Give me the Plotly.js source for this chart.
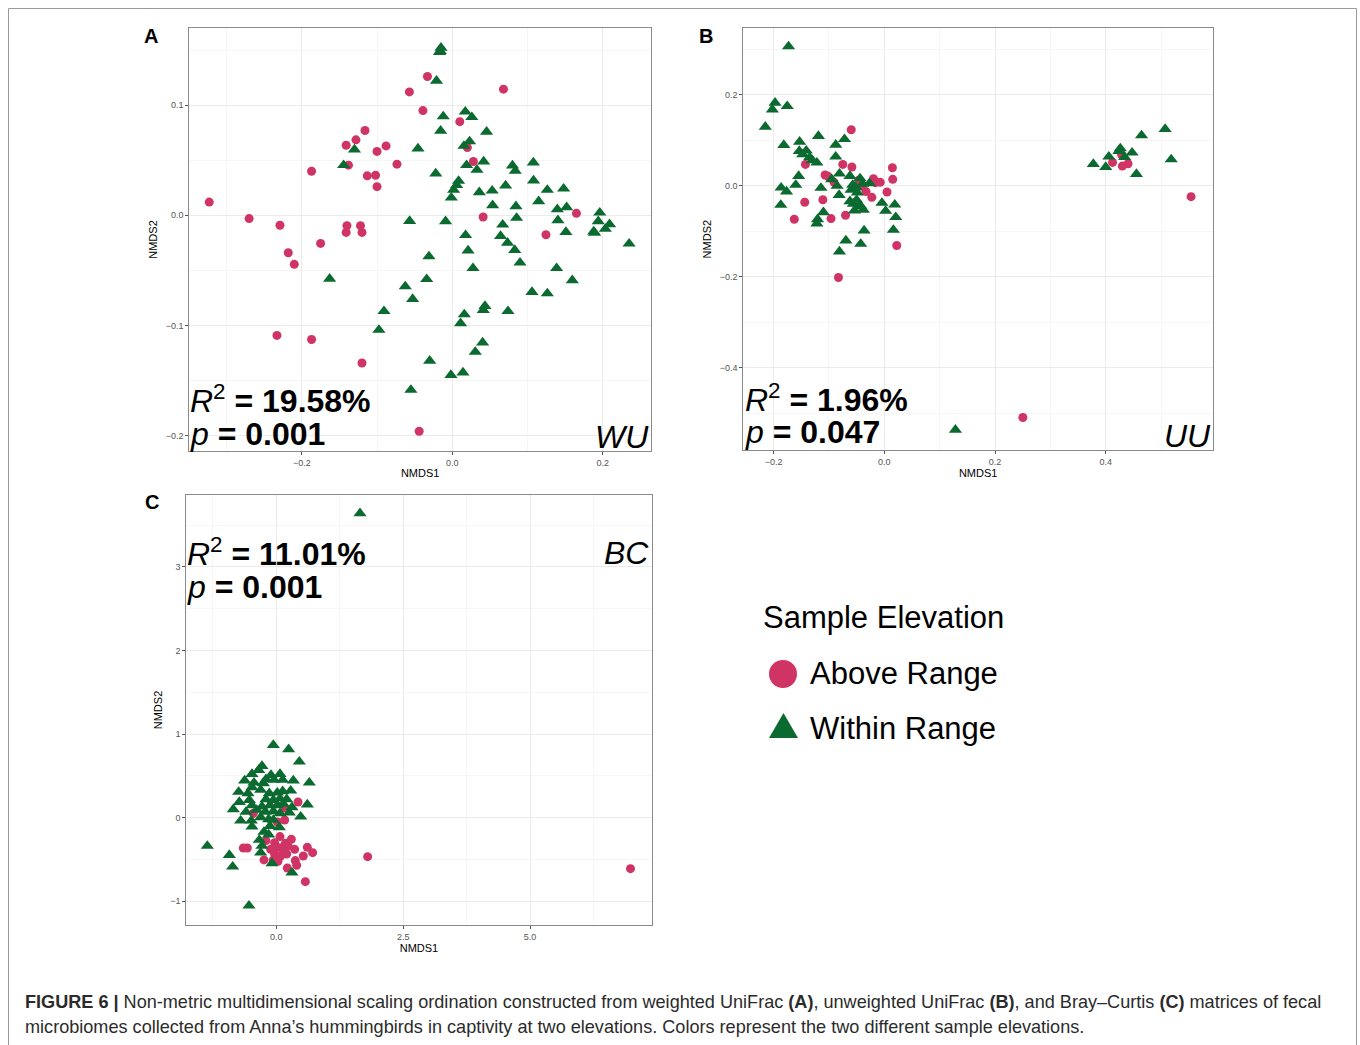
<!DOCTYPE html>
<html>
<head>
<meta charset="utf-8">
<script src="https://cdn.plot.ly/plotly-3.0.1.min.js"></script>
<style>html,body{margin:0;padding:0;background:#fff;}#chart{width:1360px;height:1045px;}</style>
</head>
<body>
<div id="chart"></div>
<script>
// ---------- DATA ----------
// Panel A: weighted UniFrac (WU)
const wuAboveX = [-0.323,-0.270,-0.229,-0.218,-0.210,-0.175,-0.187,-0.141,-0.128,-0.116,-0.138,-0.100,-0.088,-0.113,-0.102,-0.100,-0.0735,-0.140,-0.141,-0.122,-0.120,-0.233,-0.187,-0.120,-0.057,-0.033,-0.039,0.010,0.020,0.028,0.068,0.041,0.1245,0.165,-0.044];
const wuAboveY = [0.012,-0.003,-0.009,-0.034,-0.0445,-0.0255,0.040,0.0636,0.0685,0.077,0.0455,0.058,0.063,0.0358,0.0364,0.026,0.0464,-0.0094,-0.0155,-0.0094,-0.0155,-0.109,-0.1127,-0.134,0.112,0.126,0.095,0.085,0.0615,0.0488,0.1145,-0.0015,-0.0176,0.0018,-0.196];
const wuWithinX = [-0.015,-0.016,-0.017,-0.021,-0.012,-0.0155,0.0173,0.026,0.0456,-0.0456,-0.130,-0.1444,-0.022,0.023,0.0155,0.019,0.0328,0.0417,0.0084,0.0058,0.0018,-0.0013,0.0359,0.053,0.0536,0.0709,0.080,0.0837,0.1077,0.108,0.1263,0.148,0.1148,0.1396,0.152,0.0846,0.0855,0.067,0.1404,0.196,0.194,0.209,0.2034,0.188,0.189,0.151,0.235,-0.0567,-0.0089,0.0177,0.021,0.0275,0.0642,0.0735,0.083,0.090,0.1387,0.1595,-0.031,-0.034,-0.0625,-0.0527,-0.163,-0.0908,-0.0975,0.1059,0.1263,0.074,0.0434,0.0412,0.016,0.011,0.0403,0.0306,-0.030,-0.0018,0.0142,-0.055];
const wuWithinY = [0.152,0.149,0.148,0.122,0.0897,0.0767,0.094,0.089,0.0758,0.0606,0.0597,0.0455,0.0379,0.067,0.063,0.0455,0.0412,0.0488,0.0312,0.0273,0.023,0.016,0.0209,0.0224,0.0091,0.027,0.0452,0.0403,0.0479,0.0315,0.023,0.0242,0.0127,0.0055,0.0073,0.0082,-0.0024,-0.0085,-0.0045,0.0024,-0.0055,-0.0082,-0.0124,-0.0148,-0.016,-0.0152,-0.0258,-0.0052,-0.0055,-0.018,-0.032,-0.048,-0.0188,-0.025,-0.0315,-0.043,-0.048,-0.059,-0.0373,-0.058,-0.0645,-0.076,-0.0576,-0.087,-0.104,-0.0697,-0.0709,-0.087,-0.0824,-0.086,-0.090,-0.098,-0.1155,-0.124,-0.132,-0.145,-0.1427,-0.1585];

// Panel B: unweighted UniFrac (UU)
const uuAboveX = [-0.0597,-0.1425,-0.075,-0.0585,-0.107,-0.1017,-0.0907,-0.0463,-0.0195,-0.0158,-0.0073,0.0146,0.0152,0.0049,-0.0225,-0.033,-0.040,-0.1437,-0.111,-0.1626,-0.0962,-0.070,0.0225,-0.0828,0.4123,0.43,0.4403,0.4287,0.5542,0.2503];
const uuAboveY = [0.1228,0.0468,0.0468,0.041,0.0234,0.0205,0.0073,0.0117,0.0154,0.0066,0.0073,0.0395,0.0139,-0.0139,-0.0256,-0.013,0.0,-0.0365,-0.031,-0.0738,-0.0724,-0.065,-0.1316,-0.2018,0.0512,0.0431,0.0482,0.068,-0.0241,-0.5095];
const uuWithinX = [-0.173,-0.1973,-0.2022,-0.1754,-0.215,-0.1815,-0.153,-0.119,-0.1535,-0.1474,-0.141,-0.135,-0.130,-0.1218,-0.0877,-0.0719,-0.0877,-0.081,-0.062,-0.095,-0.0853,-0.1145,-0.1547,-0.160,-0.1864,-0.1766,-0.187,-0.110,-0.1206,-0.1218,-0.0816,-0.060,-0.057,-0.051,-0.0438,-0.039,-0.0487,-0.062,-0.056,-0.050,-0.046,-0.054,-0.0426,-0.0378,-0.0268,-0.0043,0.0024,0.0189,0.0207,0.0164,-0.0365,-0.0426,-0.0694,-0.081,0.3776,0.400,0.4056,0.4239,0.4263,0.4342,0.4476,0.4647,0.4555,0.5073,0.5183,0.1285];
const uuWithinY = [0.306,0.182,0.1674,0.1747,0.1294,0.0892,0.0965,0.109,0.076,0.0687,0.0768,0.062,0.0556,0.0504,0.0899,0.1023,0.0636,0.0263,0.0212,0.0139,-0.0007,-0.0051,0.0212,0.0015,-0.0044,-0.013,-0.0424,-0.0585,-0.0738,-0.0833,-0.0205,-0.0095,0.0015,-0.0044,0.016,0.0037,-0.0154,-0.0344,-0.040,-0.0314,-0.046,-0.0548,-0.0446,-0.0534,0.0051,-0.038,-0.0556,-0.0417,-0.0694,-0.0972,-0.0987,-0.128,-0.1206,-0.1447,0.0475,0.041,0.0636,0.076,0.0819,0.0629,0.0724,0.1104,0.0256,0.1243,0.0577,-0.5365];

// Panel C: Bray-Curtis (BC)
const bcAboveX = [0.427,-0.453,0.164,0.020,0.164,-0.204,-0.033,0.072,0.177,0.296,-0.112,0.020,0.125,0.230,0.361,0.611,0.716,-0.650,-0.572,-0.033,0.085,0.204,-0.243,0.033,0.374,0.532,0.217,0.401,0.572,-0.059,0.138,1.80,6.98];
const bcAboveY = [0.187,0.052,0.116,-0.052,-0.028,-0.275,-0.299,-0.227,-0.307,-0.259,-0.379,-0.355,-0.355,-0.339,-0.379,-0.355,-0.419,-0.363,-0.363,-0.435,-0.459,-0.435,-0.506,-0.522,-0.514,-0.459,-0.602,-0.570,-0.766,-0.506,-0.395,-0.467,-0.61];
const bcWithinX = [-0.059,0.243,0.453,-0.283,-0.348,-0.480,-0.105,0.072,-0.204,-0.624,-0.440,-0.256,-0.046,0.125,0.335,0.650,-0.480,-0.309,-0.742,-0.558,-0.138,0.020,0.125,0.283,-0.532,-0.729,-0.204,-0.059,0.072,0.204,-0.480,-0.283,-0.125,0.020,0.138,0.611,-0.848,-0.598,-0.388,-0.217,-0.059,0.072,0.309,0.256,-0.703,-0.493,-0.309,-0.151,-0.059,0.480,-0.480,-0.125,0.059,-0.243,-0.151,-0.335,-0.283,-0.309,-0.085,0.309,-1.36,-0.926,-0.861,-0.539,1.649];
const bcWithinY = [0.869,0.818,0.670,0.618,0.570,0.522,0.510,0.522,0.459,0.443,0.419,0.411,0.451,0.451,0.443,0.419,0.363,0.331,0.307,0.291,0.291,0.299,0.315,0.323,0.211,0.187,0.219,0.211,0.227,0.219,0.148,0.132,0.148,0.148,0.164,0.156,0.100,0.068,0.092,0.068,0.076,0.052,0.124,0.060,-0.036,-0.036,0.004,-0.020,-0.028,0.012,-0.108,-0.100,-0.116,-0.171,-0.203,-0.267,-0.339,-0.419,-0.546,-0.658,-0.339,-0.447,-0.586,-1.053,3.641];

// Labels / stats
const groupNames = ["Above Range", "Within Range"];
const legendTitle = "Sample Elevation";
const panelLetters = ["A", "B", "C"];
const panelCodes = ["WU", "UU", "BC"];
const r2Values = ["19.58%", "1.96%", "11.01%"];
const pValues = ["0.001", "0.047", "0.001"];
const axisTitleX = "NMDS1";
const axisTitleY = "NMDS2";
const captionLine1 = "<b>FIGURE 6 |</b> Non-metric multidimensional scaling ordination constructed from weighted UniFrac <b>(A)</b>, unweighted UniFrac <b>(B)</b>, and Bray–Curtis <b>(C)</b> matrices of fecal";
const captionLine2 = "microbiomes collected from Anna’s hummingbirds in captivity at two elevations. Colors represent the two different sample elevations.";

// ---------- STYLE / LAYOUT ----------
const W = 1360, H = 1045;
const fx = p => p / W;
const fy = p => 1 - p / H;
const RED = "#cf3464";
const GREEN = "#0b6a2f";
const FONT = "Liberation Sans, Arial, sans-serif";

const panels = [
  {xa:"xaxis",  ya:"yaxis",  xr:"x",  yr:"y",  px:[189.3,651], py:[28.3,450.7], xrange:[-0.3495,0.2641], yrange:[-0.2136,0.1697], xdt:0.2, ydt:0.1, yfmt:".1f",
   data:[wuAboveX,wuAboveY,wuWithinX,wuWithinY], letter:[151,36], r2:[188,399], p:[188,434], code:[651,437]},
  {xa:"xaxis2", ya:"yaxis2", xr:"x2", yr:"y2", px:[743.3,1213], py:[28.3,450], xrange:[-0.2547,0.5938], yrange:[-0.581,0.3459], xdt:0.2, ydt:0.2, yfmt:".1f",
   data:[uuAboveX,uuAboveY,uuWithinX,uuWithinY], letter:[706,36], r2:[743,398], p:[743,432], code:[1213,436]},
  {xa:"xaxis3", ya:"yaxis3", xr:"x3", yr:"y3", px:[186.3,651.7], py:[494.7,925.3], xrange:[-1.774,7.398], yrange:[-1.288,3.864], xdt:2.5, ydt:1, yfmt:"d",
   data:[bcAboveX,bcAboveY,bcWithinX,bcWithinY], letter:[152,502], r2:[185,552], p:[185,587], code:[651,553]}
];

const traces = [];
const layout = {
  width: W, height: H,
  margin: {l:0, r:0, t:0, b:0, pad:0},
  paper_bgcolor: "#fff", plot_bgcolor: "#fff",
  font: {family: FONT, color: "#000"},
  showlegend: false,
  annotations: [], shapes: []
};

panels.forEach((pn, i) => {
  traces.push({type:"scatter", mode:"markers", x:pn.data[0], y:pn.data[1], xaxis:pn.xr, yaxis:pn.yr,
    name:groupNames[0], marker:{symbol:"circle", size:9, color:RED, line:{width:0}}, hoverinfo:"x+y"});
  traces.push({type:"scatter", mode:"markers", x:pn.data[2], y:pn.data[3], xaxis:pn.xr, yaxis:pn.yr,
    name:groupNames[1], marker:{symbol:"triangle-up", size:11.5, color:GREEN, line:{width:0}}, hoverinfo:"x+y"});
  const common = {
    showgrid:true, gridcolor:"#ebebeb", gridwidth:1, zeroline:false,
    showline:true, linecolor:"#8a8a8a", linewidth:1, mirror:true,
    ticks:"outside", ticklen:3, tickwidth:1, tickcolor:"#555",
    tickfont:{size:9, color:"#555", family:FONT}, automargin:false, tick0:0
  };
  layout[pn.xa] = Object.assign({}, common, {
    domain:[fx(pn.px[0]), fx(pn.px[1])], range:pn.xrange, dtick:pn.xdt, tickformat:".1f",
    anchor:pn.yr,
    minor:{dtick:pn.xdt/2, tick0:0, showgrid:true, gridcolor:"#f0f0f0", gridwidth:0.6, ticks:""},
    title:{text:axisTitleX, font:{size:11, color:"#000", family:FONT}, standoff:2}
  });
  layout[pn.ya] = Object.assign({}, common, {
    domain:[fy(pn.py[1]), fy(pn.py[0])], range:pn.yrange, dtick:pn.ydt, tickformat:pn.yfmt,
    anchor:pn.xr,
    minor:{dtick:pn.ydt/2, tick0:0, showgrid:true, gridcolor:"#f0f0f0", gridwidth:0.6, ticks:""},
    title:{text:axisTitleY, font:{size:11, color:"#000", family:FONT}, standoff:5}
  });
  // panel letter
  layout.annotations.push({xref:"paper", yref:"paper", x:fx(pn.letter[0]), y:fy(pn.letter[1]), xanchor:"center", yanchor:"middle",
    text:"<b>"+panelLetters[i]+"</b>", showarrow:false, font:{size:20, family:FONT, color:"#000"}});
  // stats
  layout.annotations.push({xref:"paper", yref:"paper", x:fx(pn.r2[0]), y:fy(pn.r2[1]), xanchor:"left", yanchor:"middle",
    text:"<i>R</i><sup>2</sup><b> = "+r2Values[i]+"</b>", showarrow:false, font:{size:32, family:FONT, color:"#000"}});
  layout.annotations.push({xref:"paper", yref:"paper", x:fx(pn.p[0]), y:fy(pn.p[1]), xanchor:"left", yanchor:"middle",
    text:"<i>p</i><b> = "+pValues[i]+"</b>", showarrow:false, font:{size:32, family:FONT, color:"#000"}});
  layout.annotations.push({xref:"paper", yref:"paper", x:fx(pn.code[0]), y:fy(pn.code[1]), xanchor:"right", yanchor:"middle",
    text:"<i>"+panelCodes[i]+"</i>", showarrow:false, font:{size:32, family:FONT, color:"#000"}});
});

// legend (drawn as annotations + key shapes)
layout.annotations.push({xref:"paper", yref:"paper", x:fx(761), y:fy(617), xanchor:"left", yanchor:"middle",
  text:legendTitle, showarrow:false, font:{size:31, family:FONT, color:"#000"}});
layout.annotations.push({xref:"paper", yref:"paper", x:fx(808), y:fy(673), xanchor:"left", yanchor:"middle",
  text:groupNames[0], showarrow:false, font:{size:31, family:FONT, color:"#000"}});
layout.annotations.push({xref:"paper", yref:"paper", x:fx(808), y:fy(728), xanchor:"left", yanchor:"middle",
  text:groupNames[1], showarrow:false, font:{size:31, family:FONT, color:"#000"}});
layout.shapes.push({type:"circle", xref:"paper", yref:"paper", x0:fx(769), x1:fx(797), y0:fy(688), y1:fy(660),
  fillcolor:RED, line:{width:0}});
layout.shapes.push({type:"path", xref:"paper", yref:"paper",
  path:"M"+fx(769)+","+fy(738)+" L"+fx(798)+","+fy(738)+" L"+fx(783.5)+","+fy(713)+" Z",
  fillcolor:GREEN, line:{width:0}});

// caption
layout.annotations.push({xref:"paper", yref:"paper", x:fx(23), y:fy(1002), xanchor:"left", yanchor:"middle",
  text:captionLine1, showarrow:false, font:{size:18.1, family:FONT, color:"#2b2b2b"}});
layout.annotations.push({xref:"paper", yref:"paper", x:fx(23), y:fy(1027), xanchor:"left", yanchor:"middle",
  text:captionLine2, showarrow:false, font:{size:18.1, family:FONT, color:"#2b2b2b"}});

// outer frame
const frameStyle = {color:"#9a9a9a", width:1};
layout.shapes.push({type:"line", xref:"paper", yref:"paper", x0:fx(8.5), x1:fx(1356.5), y0:fy(8.5), y1:fy(8.5), line:frameStyle});
layout.shapes.push({type:"line", xref:"paper", yref:"paper", x0:fx(8.5), x1:fx(8.5), y0:fy(8.5), y1:fy(1045), line:frameStyle});
layout.shapes.push({type:"line", xref:"paper", yref:"paper", x0:fx(1356.5), x1:fx(1356.5), y0:fy(8.5), y1:fy(1045), line:frameStyle});

Plotly.newPlot("chart", traces, layout, {displayModeBar:false, staticPlot:true});
</script>
</body>
</html>
